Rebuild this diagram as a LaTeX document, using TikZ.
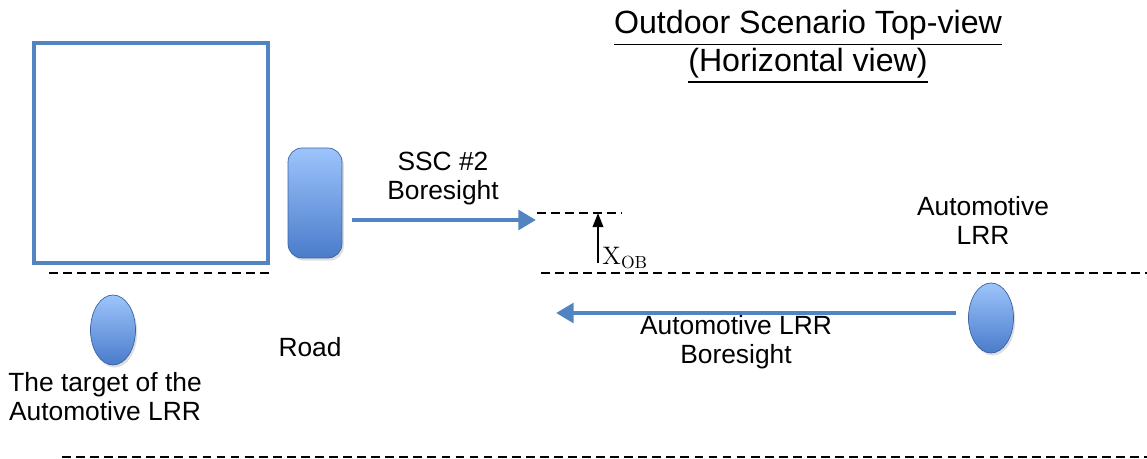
\documentclass[tikz,border=0pt]{standalone}
\usepackage[no-math]{fontspec}
\setmainfont{Liberation Sans}
\usepackage{amsmath}
\usetikzlibrary{arrows.meta,shapes.geometric,shadows}

\definecolor{boxblue}{HTML}{5384C2}
\definecolor{toplight}{HTML}{9DC4FB}
\definecolor{botdark}{HTML}{4A7CCB}

\tikzset{
  lbl/.style={font=\fontsize{15}{16.5}\selectfont, align=center},
  roadline/.style={black, line width=1.1pt, dash pattern=on 5pt off 3pt},
  beam/.style={draw=boxblue, line width=2.6pt, -{Triangle[length=10pt,width=11pt]}},
  radar/.style={ellipse, minimum width=0.9cm, minimum height=1.4cm, inner sep=0pt,
    draw=botdark!80!black, thin, top color=toplight, bottom color=botdark,
    drop shadow={opacity=0.25, shadow xshift=1pt, shadow yshift=-1.5pt}},
}

\begin{document}
\begin{tikzpicture}[x=0.02cm, y=-0.02cm]
\useasboundingbox (0,0) rectangle (1147,459);

%Straße und Gegenstände
\node[draw=boxblue, line width=2.3pt, minimum width=4.7cm, minimum height=4.4cm] (target) at (151,153) {};
\node[radar] (tgt) at (113,330) {};
\node[lbl] (tgtlbl) at (105,397) {The target of the\\Automotive LRR};

\node[rounded corners=8pt, minimum width=1.08cm, minimum height=2.2cm, inner sep=0pt,
  draw=botdark!80!black, thin, top color=toplight, bottom color=botdark,
  drop shadow={opacity=0.25, shadow xshift=1pt, shadow yshift=-1.5pt}] (ssc) at (315,203) {};
\node[lbl] (road) at (310,347) {Road};

\node[lbl] (lrrlbl) at (983,220) {Automotive\\LRR};
\node[radar] (lrr) at (991,318) {};

\node[align=center, font=\fontsize{18.3}{19.5}\selectfont] (title) at (808,47)
  {\underline{Outdoor Scenario Top-view}\\\underline{(Horizontal view)}};

%Koordinaten für die Linien
\coordinate (r1a) at (49,273);  \coordinate (r1b) at (273,273);
\coordinate (r2a) at (541,273); \coordinate (r2b) at (1147,273);
\coordinate (r3a) at (62,457);  \coordinate (r3b) at (1147,457);
\coordinate (oba) at (537,213); \coordinate (obb) at (622,213);
\coordinate (sscend) at (536,220);
\coordinate (lrrend) at (556,313);
\coordinate (xlow) at (598,263);
\coordinate (xtop) at (598,213);

\draw[roadline] (r1a) -- (r1b);
\draw[roadline] (r2a) -- (r2b);
\draw[roadline] (r3a) -- (r3b);
\draw[roadline] (oba) -- (obb);

\draw[beam] (ssc.east |- sscend) ++(10,0) -- (sscend);
\draw[beam] (lrr.west |- lrrend) ++(-12,0) -- (lrrend);
\node[lbl] (ssclbl) at (443,179) {SSC \#2\\Boresight};
\node[lbl] (lrrbs) at (736,342) {Automotive LRR\\Boresight};

\draw[-{Triangle[length=8pt,width=6pt]}, line width=1.1pt] (xlow) -- (xtop)
  node[pos=0.1, right, inner sep=2pt, font=\fontsize{14}{16}\selectfont] {$\mathrm{X}_{\mathrm{OB}}$};
\end{tikzpicture}
\end{document}
